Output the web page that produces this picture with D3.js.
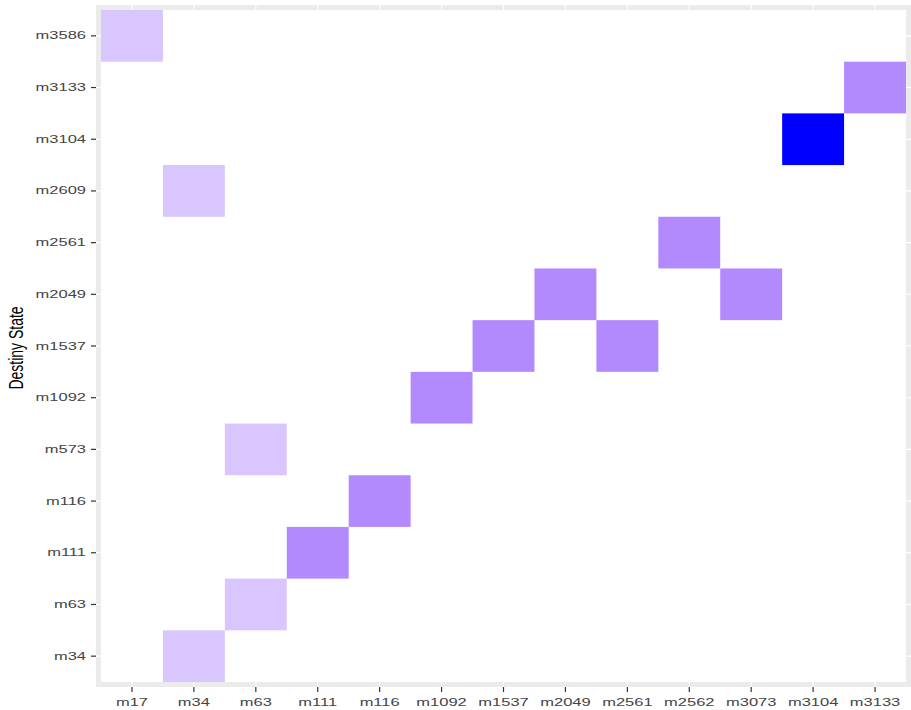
<!DOCTYPE html>
<html>
<head>
<meta charset="utf-8">
<script src="https://cdn.jsdelivr.net/npm/d3@7"></script>
<style>
  body { margin: 0; background: #fff; }
  .tick text { font-family: "Liberation Sans", Arial, sans-serif; font-size: 11px; fill: #444; }
  .tick line { stroke: #333; stroke-width: 1.2; }
</style>
</head>
<body>
<div id="chart"></div>
<script>
const origins = ['m17', 'm34', 'm63', 'm111', 'm116', 'm1092', 'm1537', 'm2049', 'm2561', 'm2562', 'm3073', 'm3104', 'm3133'];
const destinies = ['m34', 'm63', 'm111', 'm116', 'm573', 'm1092', 'm1537', 'm2049', 'm2561', 'm2609', 'm3104', 'm3133', 'm3586'];

// transitions: origin -> destiny, with a count
const fromState = ['m17', 'm34', 'm34', 'm63', 'm63', 'm111', 'm116', 'm1092', 'm1537', 'm2049', 'm2561', 'm2562', 'm3073', 'm3104', 'm3133'];
const toState   = ['m3586', 'm2609', 'm34', 'm573', 'm63', 'm111', 'm116', 'm1092', 'm1537', 'm2049', 'm1537', 'm2561', 'm2049', 'm3104', 'm3133'];
const counts    = [1, 1, 1, 1, 1, 2, 2, 2, 2, 2, 2, 2, 2, 3, 2];

const width = 911, height = 710;
const margin = { top: 5, right: 0, bottom: 23, left: 96 };
const pad = 5;
const stretch = 1.5; // text is wider than tall in the picture

const svg = d3.select('#chart').append('svg')
  .attr('width', width)
  .attr('height', height);

const panelW = width - margin.left - margin.right;
const panelH = height - margin.top - margin.bottom;

const x = d3.scaleBand().domain(origins)
  .range([margin.left + pad, width - margin.right - pad]);
const y = d3.scaleBand().domain(destinies.slice().reverse())
  .range([margin.top + pad, margin.top + panelH - pad]);

const color = d3.scaleLinear().domain([1, 2, 3])
  .range(['#dac6fe', '#b28afe', '#0000ff']);

// panel background + grid
svg.append('rect')
  .attr('x', margin.left).attr('y', margin.top)
  .attr('width', panelW).attr('height', panelH)
  .attr('fill', '#ebebeb');

const grid = svg.append('g');
grid.selectAll('line.vx').data(origins).enter().append('line')
  .attr('x1', d => x(d) + x.bandwidth() / 2).attr('x2', d => x(d) + x.bandwidth() / 2)
  .attr('y1', margin.top).attr('y2', margin.top + panelH)
  .attr('stroke', '#fff').attr('stroke-width', 1.1);
grid.selectAll('line.hy').data(destinies).enter().append('line')
  .attr('y1', d => y(d) + y.bandwidth() / 2).attr('y2', d => y(d) + y.bandwidth() / 2)
  .attr('x1', margin.left).attr('x2', margin.left + panelW)
  .attr('stroke', '#fff').attr('stroke-width', 1.1);

// empty cells are white tiles; one block covers them all
svg.append('rect')
  .attr('x', x.range()[0]).attr('y', y.range()[0])
  .attr('width', x.range()[1] - x.range()[0])
  .attr('height', y.range()[1] - y.range()[0])
  .attr('fill', '#fff');

// filled tiles
const tiles = fromState.map((f, i) => ({ o: f, d: toState[i], n: counts[i] }));
svg.append('g').selectAll('rect').data(tiles).enter().append('rect')
  .attr('x', d => x(d.o)).attr('y', d => y(d.d))
  .attr('width', x.bandwidth()).attr('height', y.bandwidth())
  .attr('fill', d => color(d.n));

// axes
const xAxis = svg.append('g')
  .attr('transform', `translate(0,${margin.top + panelH})`)
  .call(d3.axisBottom(x).tickSize(5).tickPadding(6));
xAxis.select('.domain').remove();
xAxis.selectAll('.tick text')
  .attr('transform', `scale(${stretch},1)`);

const yAxis = svg.append('g')
  .attr('transform', `translate(${margin.left},0)`)
  .call(d3.axisLeft(y).tickSize(5));
yAxis.select('.domain').remove();
yAxis.selectAll('.tick text')
  .attr('x', 0)
  .attr('transform', `translate(-10,0) scale(${stretch},1)`);

svg.append('text')
  .attr('transform', `translate(23,${margin.top + panelH / 2 + 2}) scale(${stretch},1) rotate(-90)`)
  .attr('text-anchor', 'middle')
  .attr('font-family', '"Liberation Sans", Arial, sans-serif')
  .attr('font-size', 14)
  .attr('fill', '#000')
  .text('Destiny State');
</script>
</body>
</html>
